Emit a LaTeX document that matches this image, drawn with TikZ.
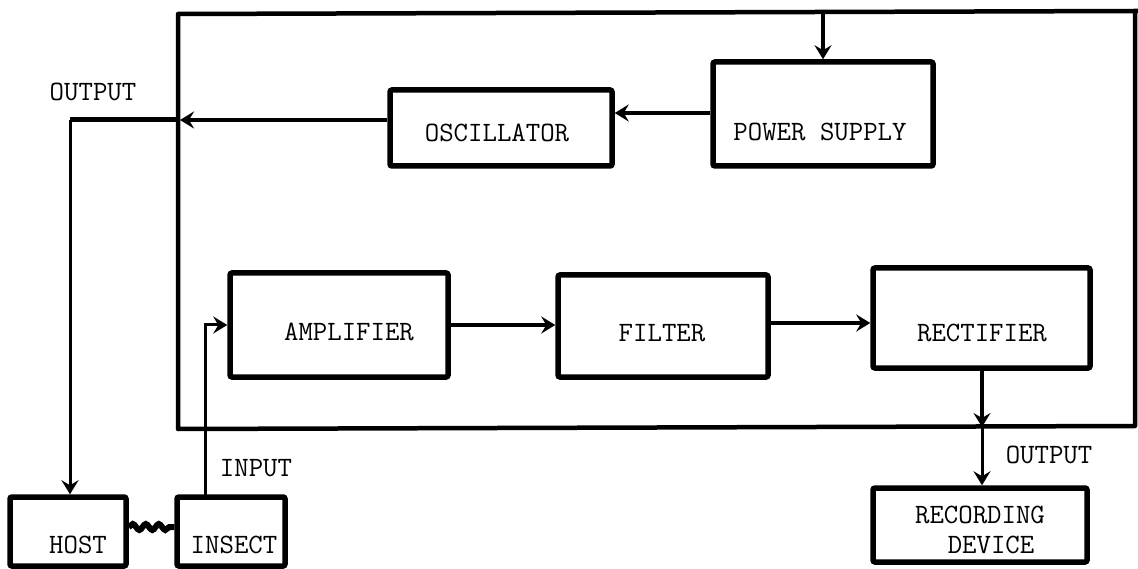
\documentclass[tikz,border=0pt]{standalone}
\usetikzlibrary{arrows.meta,decorations.pathmorphing}
\tikzset{
  blk/.style={draw, line width=5.5pt, rounded corners=2pt, minimum width=#1, inner sep=0pt},
  lbl/.style={font=\ttfamily\fontsize{28}{32}\selectfont, inner sep=0pt, anchor=center},
  conn/.style={line width=4pt},
  thin conn/.style={line width=3pt},
  frame/.style={line width=4.5pt, line join=round},
  arr/.style={-{Stealth[length=14pt,width=17pt,inset=5pt]}},
  coil/.style={line width=6pt, decorate, decoration={snake, amplitude=3pt, segment length=13pt}}
}
\begin{document}
\begin{tikzpicture}[x=1pt,y=-1pt]
\useasboundingbox (0,0) rectangle (1138,569);
% blocks
\node[blk=220pt, minimum height=104pt] (pwr) at (823,114) {};
\node[blk=222pt, minimum height=76pt] (osc) at (501,128) {};
\node[blk=218pt, minimum height=104pt] (amp) at (339,325) {};
\node[blk=210pt, minimum height=102pt] (fil) at (663,326) {};
\node[blk=217pt, minimum height=100pt] (rec) at (981.5,318) {};
\node[blk=116pt, minimum height=69pt] (host) at (68,531.5) {};
\node[blk=108pt, minimum height=69pt] (insect) at (231,531.5) {};
\node[blk=214pt, minimum height=74pt] (recdev) at (980,525) {};
% labels
\node[lbl] (tpwr) at (820,132) {POWER SUPPLY};
\node[lbl] (tosc) at (497,133) {OSCILLATOR};
\node[lbl] (tamp) at (349,332) {AMPLIFIER};
\node[lbl] (tfil) at (662,333) {FILTER};
\node[lbl] (trec) at (982,333) {RECTIFIER};
\node[lbl] (thost) at (78,545) {HOST};
\node[lbl] (tins) at (234,545) {INSECT};
\node[lbl] (trd1) at (980,515) {RECORDING};
\node[lbl] (trd2) at (991,545) {DEVICE};
\node[lbl] (tout1) at (93,92) {OUTPUT};
\node[lbl] (tout2) at (1049,455) {OUTPUT};
\node[lbl] (tin) at (256,468) {INPUT};
% outer frame
\coordinate (fTL) at (178,14);
\coordinate (fTR) at (1135,11);
\coordinate (fBR) at (1135,426);
\coordinate (fBL) at (178,429);
\draw[frame] (1138,11) -- (fTR) -- (fBR) -- (fBL) -- (fTL) -- (fTR);
% connectors
\coordinate (jtop) at (823,12.5);
\draw[conn,arr] (jtop) -- (pwr.north);
\draw[conn,arr] (pwr.west |- 0,113) -- (osc.east |- 0,113);
\coordinate (jleft) at (180,120);
\draw[conn,arr] (osc.west |- jleft) -- (jleft);
\draw[line width=5pt] (jleft) -- (70,120);
\draw[thin conn,arr] (70,120) -- (host.north -| 70,0);
\coordinate (inb) at (205,497);
\draw[thin conn,arr] (inb) |- (amp.west);
\draw[conn,arr] (amp.east) -- (fil.west |- amp.east);
\draw[conn,arr] (fil.east |- 0,323) -- (rec.west |- 0,323);
\coordinate (jbot) at (982,427);
\draw[conn,arr] (rec.south -| jbot) -- (jbot);
\draw[thin conn,arr] (jbot) -- (recdev.north -| jbot);
\draw[coil] (host.east |- 0,527) -- (insect.west |- 0,527);
\end{tikzpicture}
\end{document}
